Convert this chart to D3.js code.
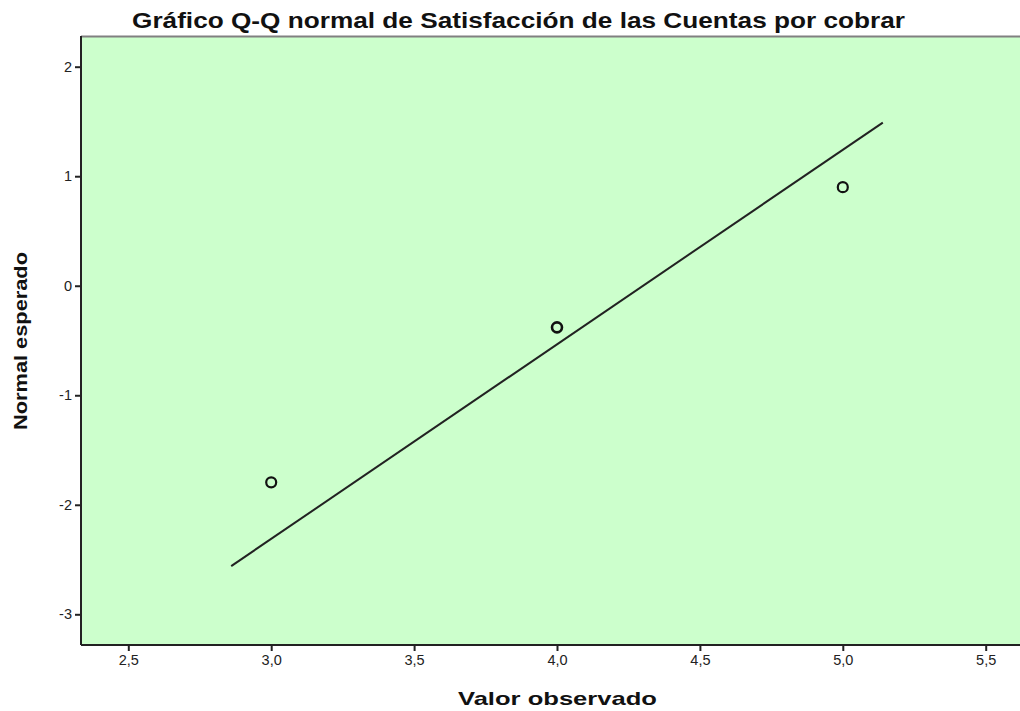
<!DOCTYPE html>
<html>
<head>
<meta charset="utf-8">
<script src="https://cdn.jsdelivr.net/npm/d3@7"></script>
<style>
body{margin:0;background:#fff;}
svg{display:block;font-family:"Liberation Sans",Arial,sans-serif;}
</style>
</head>
<body>
<div id="chart"></div>
<script>
// observed values and their expected normal scores
var observed = [3, 4, 5];
var expected = [-1.795, -0.38, 0.90];
// reference line ends (observed, expected)
var lineX = [2.86, 5.14];
var lineY = [-2.56, 1.49];
var xTicks = [2.5, 3.0, 3.5, 4.0, 4.5, 5.0, 5.5];
var yTicks = [-3, -2, -1, 0, 1, 2];
var title = "Gráfico Q-Q normal de Satisfacción de las Cuentas por cobrar";
var xLabel = "Valor observado";
var yLabel = "Normal esperado";

var width = 1020, height = 711;
var plotL = 81, plotR = 1020, plotT = 36, plotB = 645;

var svg = d3.select("#chart").append("svg")
    .attr("width",width)
    .attr("height",height);

var xScale = d3.scaleLinear().domain([2.5,5.5]).range([128.3,985.7]);
var yScale = d3.scaleLinear().domain([-3,2]).range([614.3,66.7]);

svg.append("rect")
    .attr("x",plotL).attr("y",plotT)
    .attr("width",plotR-plotL).attr("height",plotB-plotT)
    .attr("fill","#ccffcc");

// top border grey
svg.append("line")
    .attr("x1",plotL).attr("x2",plotR)
    .attr("y1",plotT+0.5).attr("y2",plotT+0.5)
    .attr("stroke","#808080").attr("stroke-width",2);

var fmtX = function(d){return d3.format(".1f")(d).replace(".",",");};
var fmtY = function(d){return String(d);};

var xAxis = d3.axisBottom(xScale).tickValues(xTicks).tickSize(6).tickSizeOuter(0).tickPadding(4).tickFormat(fmtX);
var yAxis = d3.axisLeft(yScale).tickValues(yTicks).tickSize(6).tickSizeOuter(0).tickPadding(3).tickFormat(fmtY);

var gx = svg.append("g")
    .attr("transform","translate(0,"+plotB+")")
    .call(xAxis);
gx.select(".domain").remove();
gx.append("line").attr("x1",plotL).attr("x2",plotR).attr("y1",0).attr("y2",0)
    .attr("stroke","#222").attr("stroke-width",2);

var gy = svg.append("g")
    .attr("transform","translate("+plotL+",0)")
    .call(yAxis);
gy.select(".domain").remove();
gy.append("line").attr("x1",0).attr("x2",0).attr("y1",plotT).attr("y2",plotB)
    .attr("stroke","#222").attr("stroke-width",2);

svg.selectAll(".tick line").attr("stroke","#222").attr("stroke-width",2);
svg.selectAll(".tick text").attr("fill","#222").attr("font-size",14.5)
    .attr("font-family","'Liberation Sans',Arial,sans-serif");

var line = d3.line()
    .x(function(d){return xScale(d[0]);})
    .y(function(d){return yScale(d[1]);});
svg.append("path")
    .datum(lineX.map(function(v,i){return [v,lineY[i]];}))
    .attr("fill","none")
    .attr("stroke","#222")
    .attr("stroke-width",2)
    .attr("d",line);

svg.append("g").selectAll("circle")
    .data(observed)
    .enter()
    .append("circle")
    .attr("cx",function(d){return xScale(d);})
    .attr("cy",function(d,i){return yScale(expected[i]);})
    .attr("r",5)
    .attr("fill","none")
    .attr("stroke","#111")
    .attr("stroke-width",function(d,i){return i==1?2.6:2.2;});

svg.append("text")
    .attr("x",132).attr("y",28)
    .attr("font-size",22).attr("font-weight","bold")
    .attr("textLength",773).attr("lengthAdjust","spacingAndGlyphs")
    .attr("fill","#111")
    .text(title);

svg.append("text")
    .attr("x",458).attr("y",705)
    .attr("font-size",19).attr("font-weight","bold")
    .attr("textLength",199).attr("lengthAdjust","spacingAndGlyphs")
    .attr("fill","#111")
    .text(xLabel);

svg.append("text")
    .attr("transform","translate(27,430) rotate(-90)")
    .attr("font-size",18).attr("font-weight","bold")
    .attr("textLength",178).attr("lengthAdjust","spacingAndGlyphs")
    .attr("fill","#111")
    .text(yLabel);
</script>
</body>
</html>
